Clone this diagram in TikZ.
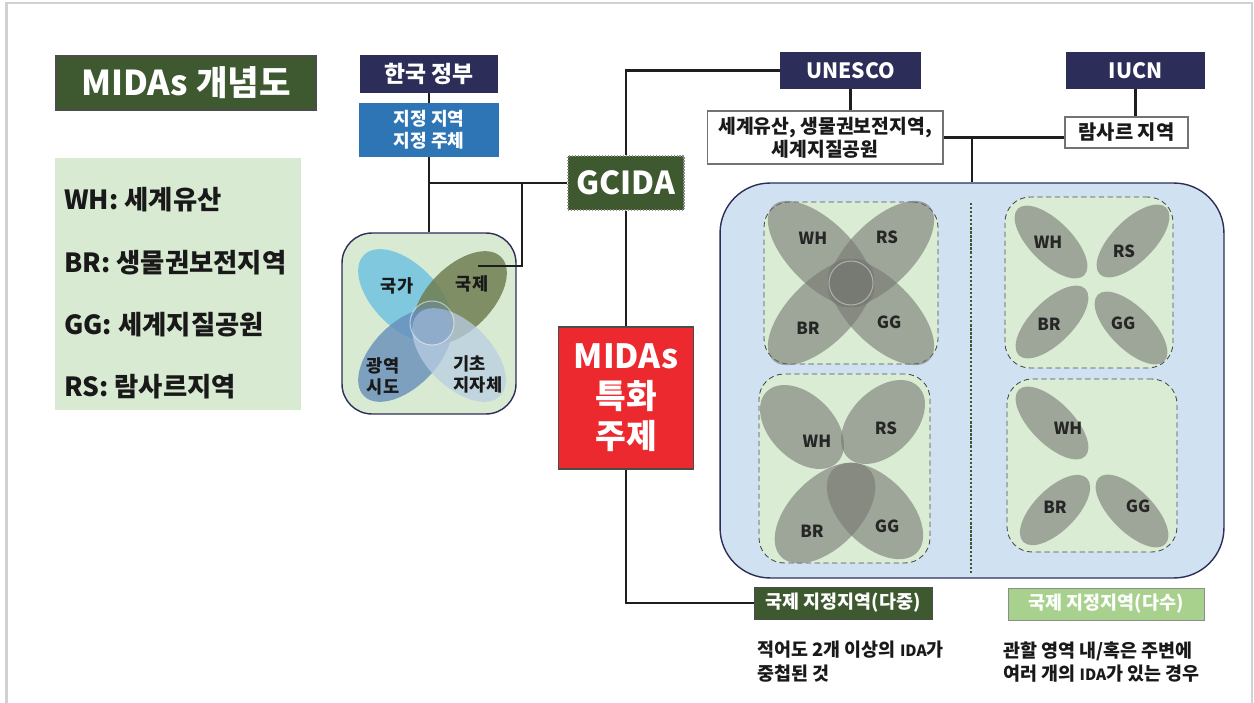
\documentclass[tikz,border=0pt]{standalone}
\usepackage{fontspec}
\setmainfont{Noto Sans CJK KR}
\usetikzlibrary{calc}
\definecolor{navy}{RGB}{44,46,89}
\definecolor{govblue}{RGB}{46,117,182}
\definecolor{darkgreen}{RGB}{62,88,47}
\definecolor{palegreen}{RGB}{217,234,211}
\definecolor{boxgreen}{RGB}{218,237,212}
\definecolor{midasred}{RGB}{236,41,46}
\definecolor{skyblue}{RGB}{208,226,242}
\definecolor{leafgreen}{RGB}{169,209,142}
\definecolor{idagray}{RGB}{118,120,114}
\definecolor{nationblue}{RGB}{112,195,225}
\definecolor{intlolive}{RGB}{112,126,82}
\definecolor{metroblue}{RGB}{104,142,186}
\definecolor{localblue}{RGB}{186,206,226}
\definecolor{linegray}{RGB}{30,30,30}
\tikzset{
	conn/.style={line width=1.4pt, color=linegray},
	flatbox/.style={inner sep=0pt, text=white, font=\bfseries\fontsize{12}{14}\selectfont, align=center},
	navybox/.style={flatbox, fill=navy, minimum height=0.74cm},
	whitebox/.style={inner sep=0pt, fill=white, draw=black!55, line width=0.6pt, text=black!90, align=center},
	idabox/.style={inner sep=0pt, draw=black!70, densely dashed, line width=0.5pt, fill=boxgreen, rounded corners=0.5cm},
	ida/.style={fill=idagray, fill opacity=0.6},
	idalabel/.style={inner sep=0pt, font=\bfseries\fontsize{9.5}{11}\selectfont, text=black!85},
	vennlabel/.style={inner sep=0pt, font=\bfseries\fontsize{10}{12}\selectfont, text=black!90},
	legendline/.style={anchor=west, inner sep=0pt, font=\bfseries\fontsize{15}{17}\selectfont, text=black!90},
	note/.style={anchor=north west, inner sep=0pt, align=left, font=\bfseries\fontsize{10.5}{13.2}\selectfont, text=black!90}
}
\def\lobe[#1](#2)(#3:#4:#5){\fill[#1, shift={(#2)}, rotate=#5] (0,0) ellipse [x radius=#3*0.02cm, y radius=#4*0.02cm];}
\def\ida{{\fontsize{8.8}{10}\selectfont IDA}}

\begin{document}
\begin{tikzpicture}[x=0.02cm, y=-0.02cm]
			%%%%% START %%%%%
			
			\useasboundingbox (0,0) rectangle (1254,703);
			\draw[line width=1.2pt, color=black!18] (6.5,703) -- (6.5,3) -- (1252,3) -- (1252,703);
			
			% title and legend
			\node[flatbox, fill=darkgreen, draw=black!70, line width=0.6pt, minimum width=5.2cm, minimum height=1.08cm, font=\bfseries\fontsize{19.5}{22}\selectfont] (title) at (186,83) {MIDAs 개념도};
			\node[fill=palegreen, minimum width=4.92cm, minimum height=5.04cm] (legend) at (178,284) {};
			\node[legendline] (lgwh) at (64,200) {WH: 세계유산};
			\node[legendline] (lgbr) at (64,263) {BR: 생물권보전지역};
			\node[legendline] (lggg) at (64,325) {GG: 세계지질공원};
			\node[legendline] (lgrs) at (64,387) {RS: 람사르지역};
			
			% korea side
			\node[navybox, minimum width=2.78cm, minimum height=0.76cm, font=\bfseries\fontsize{13}{15}\selectfont] (gov) at (429,74) {한국 정부};
			\node[flatbox, fill=govblue, minimum width=2.8cm, minimum height=1.08cm, font=\bfseries\fontsize{10.3}{12.5}\selectfont] (desig) at (429,130) {지정 지역\\지정 주체};
			\node[draw=navy, line width=0.8pt, fill=palegreen, rounded corners=0.6cm, minimum width=3.48cm, minimum height=3.62cm] (venn) at (429,323.5) {};
			
			\lobe[nationblue, fill opacity=0.85](405,296)(58:32:-45);
			\lobe[intlolive, fill opacity=0.85](460,298)(58:32:45);
			\lobe[metroblue, fill opacity=0.8](405,355)(58:32:45);
			\lobe[localblue, fill opacity=0.75](459,355)(58:32:-45);
			\draw[fill=metroblue, fill opacity=0.35, draw=white, draw opacity=0.5, line width=0.6pt] (432,323) circle [radius=22*0.02cm];
			
			\node[vennlabel] (nation) at (397,286) {국가};
			\node[vennlabel] (intl) at (472,284) {국제};
			\node[vennlabel, align=center] (metro) at (383,376) {광역\\시도};
			\node[vennlabel, align=left] (local) at (478,374) {기초\\지자체};
			
			\node[flatbox, fill=darkgreen, draw=black!45, densely dotted, line width=0.7pt, minimum width=2.32cm, minimum height=1.08cm, font=\bfseries\fontsize{18}{20}\selectfont] (gcida) at (626,183) {GCIDA};
			\node[flatbox, fill=midasred, draw=black!70, line width=0.7pt, minimum width=2.7cm, minimum height=2.84cm, font=\bfseries\fontsize{19}{22.7}\selectfont] (midas) at (626,398) {MIDAs\\특화\\주제};
			
			\draw[conn] (gov) -- (desig);
			\draw[conn] (desig) -- (venn);
			\draw[conn] (gcida.west) -- (gcida.west -| venn.north);
			\coordinate (fork) at (522,183);
			\coordinate (intlend) at (478,266);
			\draw[conn] (fork) |- (intlend);
			\draw[conn] (gcida) -- (midas);
			
			% international side
			\node[navybox, minimum width=2.82cm] (unesco) at (850.5,70.5) {UNESCO};
			\node[navybox, minimum width=2.78cm] (iucn) at (1135.5,70.5) {IUCN};
			\node[whitebox, minimum width=4.72cm, minimum height=1.06cm, font=\bfseries\fontsize{11}{13}\selectfont] (heritage) at (825,137.5) {세계유산, 생물권보전지역,\\세계지질공원};
			\node[whitebox, minimum width=2.46cm, minimum height=0.62cm, font=\bfseries\fontsize{11.3}{13}\selectfont] (ramsar) at (1126.5,132.5) {람사르 지역};
			
			\draw[conn] (gcida.north) |- (unesco.west);
			\draw[conn] (unesco.south) -- (unesco.south |- heritage.north);
			\draw[conn] (iucn.south) -- (iucn.south |- ramsar.north);
			\draw[conn] (heritage.east) -- (heritage.east -| ramsar.west);
			
			\node[draw=navy, line width=0.8pt, fill=skyblue, rounded corners=1cm, minimum width=10.08cm, minimum height=7.9cm] (big) at (972,380.5) {};
			\draw[conn] (big.north) -- (big.north |- heritage.east);
			\coordinate (divtop) at (971,203);
			\coordinate (divbot) at (971,573);
			\draw[darkgreen, line width=1.3pt, densely dotted] (divtop) -- (divbot);
			
			\node[idabox, minimum width=3.48cm, minimum height=3.24cm] (tl) at (851,283) {};
			\node[idabox, minimum width=3.42cm, minimum height=3.78cm] (bl) at (844.5,468.5) {};
			\node[idabox, minimum width=3.36cm, minimum height=3.42cm] (tr) at (1089,282.5) {};
			\node[idabox, minimum width=3.4cm, minimum height=3.46cm] (br) at (1092,465.5) {};
			
			% overlapping
			\lobe[ida](821,254)(68:32:-45);
			\lobe[ida](881,254)(68:32:45);
			\lobe[ida](821,312)(68:32:45);
			\lobe[ida](881,312)(68:32:-45);
			\draw[fill=idagray, fill opacity=0.3, draw=white, draw opacity=0.4, line width=0.6pt] (851,283) circle [radius=22*0.02cm];
			\node[idalabel] (tlwh) at (813,238) {WH};
			\node[idalabel] (tlrs) at (887,237) {RS};
			\node[idalabel] (tlbr) at (808,328) {BR};
			\node[idalabel] (tlgg) at (889,322) {GG};
			
			\lobe[ida](802,427)(50:32:-45);
			\lobe[ida](883,422)(50:32:45);
			\lobe[ida](825,513)(62:35:45);
			\lobe[ida](875,511)(59:34:-45);
			\node[idalabel] (blwh) at (817,441) {WH};
			\node[idalabel] (blrs) at (886,428) {RS};
			\node[idalabel] (blbr) at (812,531) {BR};
			\node[idalabel] (blgg) at (887,526) {GG};
			
			% separate
			\lobe[ida](1051,242)(47:21:-45);
			\lobe[ida](1133,241)(47:21:45);
			\lobe[ida](1052,322)(47:21:45);
			\lobe[ida](1131,328)(47:21:-45);
			\node[idalabel] (trwh) at (1048,242) {WH};
			\node[idalabel] (trrs) at (1124,251) {RS};
			\node[idalabel] (trbr) at (1049,324) {BR};
			\node[idalabel] (trgg) at (1123,323) {GG};
			
			\lobe[ida](1052,423)(47:21:-45);
			\lobe[ida](1055,510)(45:21:45);
			\lobe[ida](1132,511)(47:21:-45);
			\node[idalabel] (brwh) at (1068,428) {WH};
			\node[idalabel] (brbr) at (1055,507) {BR};
			\node[idalabel] (brgg) at (1138,506) {GG};
			
			% captions
			\node[flatbox, fill=darkgreen, draw=black!70, line width=0.5pt, minimum width=3.56cm, minimum height=0.64cm, font=\bfseries\fontsize{10.5}{12}\selectfont] (multi) at (843,603) {국제 지정지역(다중)};
			\node[flatbox, fill=leafgreen, draw=black!45, line width=0.5pt, minimum width=3.92cm, minimum height=0.64cm, font=\bfseries\fontsize{10.5}{12}\selectfont] (many) at (1106,604) {국제 지정지역(다수)};
			\draw[conn] (midas.south) |- (multi.west);
			
			\node[note] (multinote) at (757,641) {적어도 2개 이상의 \ida 가\\중첩된 것};
			\node[note] (manynote) at (1003,641) {관할 영역 내/혹은 주변에\\여러 개의 \ida 가 있는 경우};
			
			%%%%% END %%%%%
\end{tikzpicture}
\end{document}
